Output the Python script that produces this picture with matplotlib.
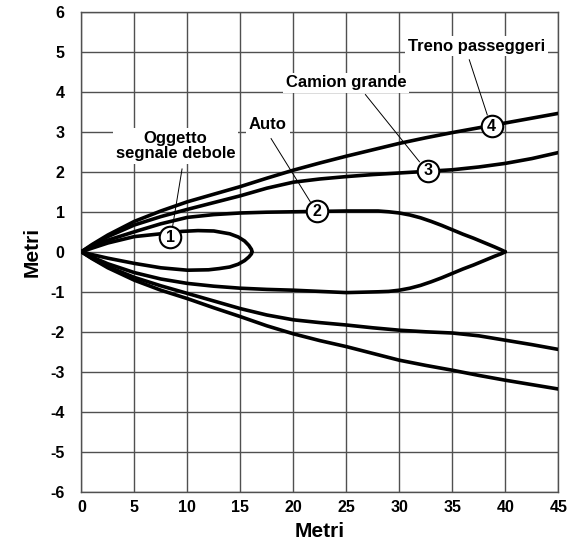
import numpy as np
import matplotlib.pyplot as plt

plt.rcParams['font.family'] = ['Liberation Sans', 'DejaVu Sans']
plt.rcParams['font.weight'] = 'bold'
plt.rcParams['axes.unicode_minus'] = False

# Curva 4 - Treno passeggeri
x_treno = [0, 1, 2.5, 5, 7.5, 10, 12.5, 15, 17.5, 20, 22.5, 25, 27.5, 30, 32.5, 35, 37.5, 40, 42.5, 45]
y_treno_sup = [0, 0.18, 0.42, 0.76, 1.02, 1.25, 1.44, 1.63, 1.84, 2.04, 2.22, 2.39, 2.55, 2.71,
               2.85, 2.98, 3.10, 3.22, 3.34, 3.46]
y_treno_inf = [0, -0.17, -0.40, -0.71, -0.96, -1.17, -1.40, -1.62, -1.85, -2.05, -2.22, -2.37,
               -2.54, -2.71, -2.84, -2.96, -3.09, -3.21, -3.32, -3.43]

# Curva 3 - Camion grande
x_camion = [0, 1, 2.5, 5, 7.5, 10, 12.5, 15, 17.5, 20, 22.5, 25, 27.5, 30, 32.5, 35, 37.5, 40, 42.5, 45]
y_camion_sup = [0, 0.16, 0.38, 0.67, 0.88, 1.06, 1.23, 1.40, 1.59, 1.74, 1.82, 1.88, 1.93, 1.97,
                2.01, 2.05, 2.12, 2.21, 2.33, 2.48]
y_camion_inf = [0, -0.16, -0.37, -0.64, -0.85, -1.04, -1.23, -1.42, -1.58, -1.70, -1.77, -1.83,
                -1.90, -1.96, -2.00, -2.03, -2.10, -2.21, -2.32, -2.44]

# Curva 2 - Auto
x_auto = [0, 1, 2.5, 5, 7.5, 10, 12.5, 15, 17.5, 20, 22.5, 25, 28, 29, 30, 31, 32, 33, 34,
          35, 36, 37, 38, 39, 39.6, 40]
y_auto_sup = [0, 0.13, 0.29, 0.50, 0.70, 0.86, 0.93, 0.97, 0.99, 1.00, 1.01, 1.02, 1.02, 1.00,
              0.97, 0.92, 0.85, 0.76, 0.66, 0.55, 0.44, 0.34, 0.23, 0.12, 0.05, 0]
y_auto_inf = [0, -0.13, -0.30, -0.52, -0.68, -0.79, -0.86, -0.91, -0.94, -0.96, -0.99, -1.02,
              -1.00, -0.99, -0.96, -0.91, -0.84, -0.75, -0.65, -0.54, -0.43, -0.33, -0.22,
              -0.11, -0.05, 0]

# Curva 1 - Oggetto segnale debole
x_ogg_sup = [0, 1, 2.5, 5, 7.5, 9.5, 11, 12.5, 14, 14.8, 15.4, 15.8, 16.05, 16.1]
y_ogg_sup = [0, 0.09, 0.22, 0.38, 0.45, 0.51, 0.53, 0.52, 0.45, 0.37, 0.27, 0.16, 0.06, 0]
x_ogg_inf = [0, 1, 2.5, 5, 7.5, 10, 12, 13, 14, 14.8, 15.4, 15.8, 16.05, 16.1]
y_ogg_inf = [0, -0.07, -0.16, -0.29, -0.40, -0.46, -0.45, -0.42, -0.38, -0.31, -0.22, -0.13,
             -0.05, 0]

# Etichette numerate sulle curve
num_etichette = ['1', '2', '3', '4']
x_num = [8.4, 22.2, 32.7, 38.7]
y_num = [0.36, 1.01, 2.02, 3.14]

# Testi descrittivi
testi = ['Oggetto\nsegnale debole', 'Auto', 'Camion grande', 'Treno passeggeri']
x_testi = [8.9, 17.6, 25.0, 37.3]
y_testi = [2.64, 3.17, 4.22, 5.14]
# estremi delle linee di richiamo (dal testo al cerchio)
x_richiamo = [(9.5, 8.6), (17.9, 21.6), (26.8, 31.9), (36.6, 38.3)]
y_richiamo = [(2.07, 0.62), (2.83, 1.25), (3.93, 2.25), (4.80, 3.42)]

x_ticks = list(range(0, 50, 5))
y_ticks = list(range(-6, 7))


def disegna_grafico():
    fig = plt.figure(figsize=(5.77, 5.52), dpi=100)
    ax = fig.add_axes([0.141, 0.109, 0.8266, 0.8697])

    ax.set_xlim(0, 45)
    ax.set_ylim(-6, 6)
    ax.set_xticks(x_ticks)
    ax.set_xticklabels([str(v) for v in x_ticks], fontweight='bold', fontsize=11.5)
    ax.set_yticks(y_ticks)
    ax.set_yticklabels([str(v) for v in y_ticks], fontweight='bold', fontsize=11.5)
    ax.grid(True, color='#505050', linewidth=1.0)
    ax.set_axisbelow(True)
    ax.tick_params(length=0)
    ax.tick_params(axis='x', pad=6)
    ax.tick_params(axis='y', pad=12)
    for sp in ax.spines.values():
        sp.set_color('#505050')
        sp.set_linewidth(1.0)

    lw = 2.6
    curve = [
        (x_treno, y_treno_sup), (x_treno, y_treno_inf),
        (x_camion, y_camion_sup), (x_camion, y_camion_inf),
        (x_auto, y_auto_sup), (x_auto, y_auto_inf),
        (x_ogg_sup, y_ogg_sup), (x_ogg_inf, y_ogg_inf),
    ]
    for xc, yc in curve:
        ax.plot(xc, yc, color='black', lw=lw, solid_joinstyle='round',
                solid_capstyle='round', zorder=3)

    # linee di richiamo
    for xr, yr in zip(x_richiamo, y_richiamo):
        ax.plot(xr, yr, color='black', lw=0.7, zorder=4)

    # cerchi numerati
    for n, xn, yn in zip(num_etichette, x_num, y_num):
        ax.plot(xn, yn, 'o', ms=15.5, mfc='white', mec='black', mew=1.5, zorder=5)
        ax.text(xn, yn, n, ha='center', va='center', fontsize=11.5,
                fontweight='bold', zorder=6)

    # testi con sfondo bianco
    for t, xt, yt in zip(testi, x_testi, y_testi):
        ax.text(xt, yt, t, ha='center', va='center', fontsize=12,
                fontweight='bold', linespacing=1.05, zorder=6,
                bbox=dict(facecolor='white', edgecolor='none', pad=2))

    ax.set_xlabel('Metri', fontsize=15, fontweight='bold')
    ax.set_ylabel('Metri', fontsize=15, fontweight='bold')
    ax.xaxis.set_label_coords(0.5, -0.063)
    ax.yaxis.set_label_coords(-0.084, 0.5)

    fig.savefig('out.png', dpi=100)


if __name__ == "__main__":
    disegna_grafico()
